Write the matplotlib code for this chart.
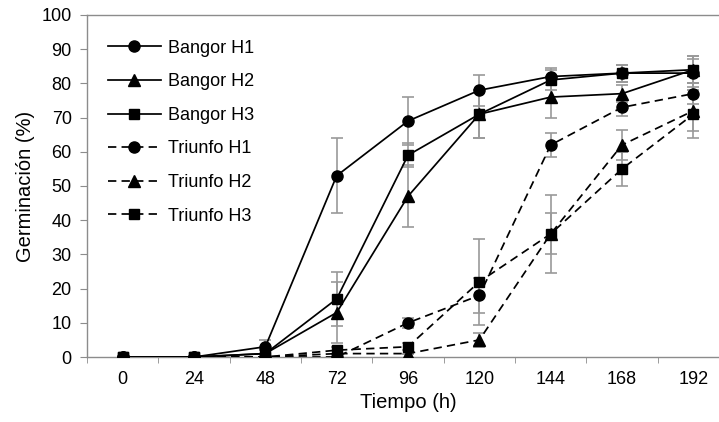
import numpy as np
import matplotlib.pyplot as plt

plt.rcParams['font.family'] = ['Liberation Sans', 'DejaVu Sans']

# tiempo (h) y germinacion (%)
tiempo = [0, 24, 48, 72, 96, 120, 144, 168, 192]

bangor_h1 = [0, 0, 3, 53, 69, 78, 82, 83, 83]
bangor_h2 = [0, 0, 1, 13, 47, 71, 76, 77, 84]
bangor_h3 = [0, 0, 1, 17, 59, 71, 81, 83, 84]
triunfo_h1 = [0, 0, 0, 0, 10, 18, 62, 73, 77]
triunfo_h2 = [0, 0, 0, 1, 1, 5, 36, 62, 72]
triunfo_h3 = [0, 0, 0, 2, 3, 22, 36, 55, 71]

err_bangor_h1 = [0, 0, 2, 11, 7, 4.5, 2.5, 2.5, 4]
err_bangor_h2 = [0, 0, 1, 9, 9, 7, 6, 2.5, 4]
err_bangor_h3 = [0, 0, 1, 8, 3.5, 7, 3, 2.5, 4]
err_triunfo_h1 = [0, 0, 0, 0, 1.5, 5, 3.5, 2.5, 3]
err_triunfo_h2 = [0, 0, 0, 0, 0, 2, 11.5, 4.5, 6]
err_triunfo_h3 = [0, 0, 0, 1, 1, 12.5, 6, 5, 7]

series = [
    ('Bangor H1', bangor_h1, err_bangor_h1, 'o', '-'),
    ('Bangor H2', bangor_h2, err_bangor_h2, '^', '-'),
    ('Bangor H3', bangor_h3, err_bangor_h3, 's', '-'),
    ('Triunfo H1', triunfo_h1, err_triunfo_h1, 'o', '--'),
    ('Triunfo H2', triunfo_h2, err_triunfo_h2, '^', '--'),
    ('Triunfo H3', triunfo_h3, err_triunfo_h3, 's', '--'),
]
sizes = {'o': 8, '^': 8.5, 's': 7.5}

fig = plt.figure(figsize=(7.19, 4.22), dpi=100)
ax = fig.add_axes([0.121, 0.154, 0.893, 0.8105])

x = np.arange(len(tiempo))
grey = '#8c8c8c'

for name, vals, err, mk, ls in series:
    ax.errorbar(x, vals, yerr=err, fmt='none', ecolor='#999999', elinewidth=1.2,
                capsize=4, capthick=1.2, zorder=2)
    line, = ax.plot(x, vals, color='black', linestyle=ls, linewidth=1.25,
                    marker=mk, markersize=sizes[mk], label=name, zorder=3)
    if ls == '--':
        line.set_dashes((4.8, 3))

ax.set_xlim(-0.5, len(tiempo) - 0.5)
ax.set_ylim(0, 100)
ax.set_yticks(range(0, 101, 10))
ax.set_xticks(x)
ax.set_xticklabels([str(t) for t in tiempo])
ax.set_xticks(np.arange(-0.5, len(tiempo), 1), minor=True)
ax.tick_params(axis='x', which='major', length=0, pad=10, labelsize=13)
ax.tick_params(axis='x', which='minor', length=4, color=grey, direction='out')
ax.tick_params(axis='y', length=5, color=grey, direction='out', labelsize=13, pad=6)

for s in ['left', 'bottom', 'top']:
    ax.spines[s].set_color(grey)
    ax.spines[s].set_linewidth(1.0)
ax.spines['right'].set_visible(False)

ax.set_xlabel('Tiempo (h)', fontsize=14.5, labelpad=4)
ax.set_ylabel('Germinación (%)', fontsize=14.5, labelpad=5)

ax.legend(loc='upper left', bbox_to_anchor=(0.033, 0.928), frameon=False,
          numpoints=1, handlelength=2.9, labelspacing=0.92, fontsize=13,
          handletextpad=0.4, borderpad=0, borderaxespad=0)

plt.savefig('out.png', dpi=100)
